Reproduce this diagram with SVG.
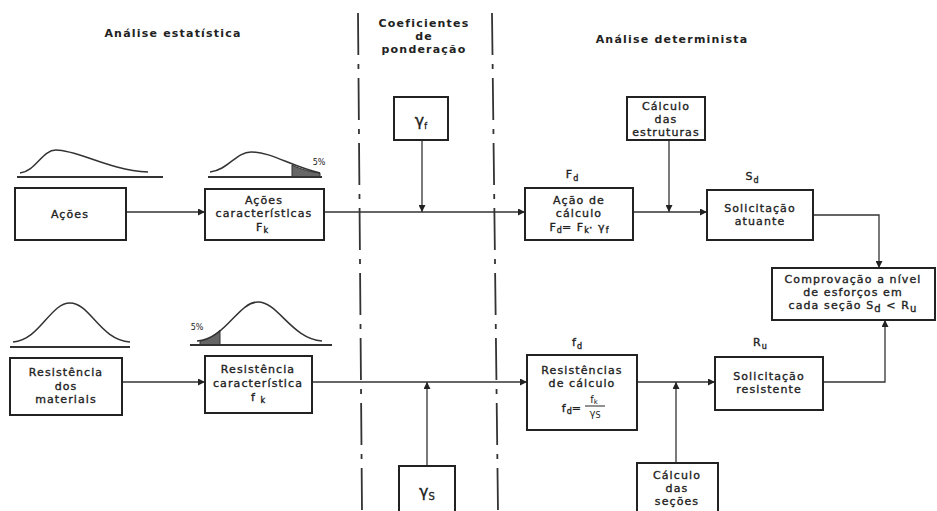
<svg xmlns="http://www.w3.org/2000/svg" width="937" height="511" viewBox="0 0 937 511">
<defs>
<marker id="ah" viewBox="0 0 10 10" refX="10" refY="5" markerWidth="8" markerHeight="7" markerUnits="userSpaceOnUse" orient="auto">
<path d="M0,0 L10,5 L0,10 z" fill="#222"/>
</marker>
</defs>
<style>
text{font-family:"DejaVu Sans","Liberation Sans",Arial,sans-serif;fill:#222;text-anchor:middle}
.h{font-size:11px;font-weight:bold;letter-spacing:1.2px}
.t{font-size:11px;letter-spacing:1.1px;stroke:#222;stroke-width:0.35px}
.g{font-size:16px;stroke:#222;stroke-width:0.3px}
.s{font-size:8px;letter-spacing:0}
.box{fill:#fff;stroke:#222;stroke-width:2}
.c{fill:none;stroke:#333;stroke-width:1.3}
.curve{fill:none;stroke:#333;stroke-width:1.5}
.base{stroke:#333;stroke-width:2}
.dd{stroke:#333;stroke-width:1.8;stroke-dasharray:42 9 5 9}
</style>
<rect width="937" height="511" fill="#fff"/>
<line class="dd" x1="358" y1="13" x2="362" y2="511"/>
<line class="dd" x1="492" y1="13" x2="498" y2="511"/>
<text class="h" x="173" y="37">Análise estatística</text>
<text class="h" x="424" y="27">Coeficientes</text>
<text class="h" x="424" y="40">de</text>
<text class="h" x="424" y="53">ponderação</text>
<text class="h" x="672" y="43">Análise determinista</text>
<g id="curves">
<path class="curve" d="M20,173 C36,171 42,150 56,150 C78,150 108,170 148,172"/>
<line class="base" x1="17" y1="177" x2="163" y2="177"/>
<path d="M292,165 C302,170 312,172 320,173 L320,177 L292,177 z" fill="#666" stroke="#333" stroke-width="1"/>
<path class="curve" d="M210,172 C228,170 236,152 251,152 C272,152 290,166 320,173"/>
<line class="base" x1="208" y1="177" x2="322" y2="177"/>
<text class="s" x="319" y="165">5%</text>
<path class="curve" d="M13,342 C40,340 50,303 70,303 C90,303 100,340 130,342"/>
<line class="base" x1="10" y1="347" x2="130" y2="347"/>
<path d="M200,341 C208,340 214,336 220,330 L220,345 L200,345 z" fill="#666" stroke="#333" stroke-width="1"/>
<path class="curve" d="M197,341 C226,339 238,302 258,302 C278,302 292,339 322,341"/>
<line class="base" x1="190" y1="345" x2="332" y2="345"/>
<text class="s" x="197" y="330">5%</text>
</g>
<g id="connectors">
<line class="c" x1="126" y1="212" x2="205" y2="212" marker-end="url(#ah)"/>
<line class="c" x1="324" y1="212" x2="525" y2="212" marker-end="url(#ah)"/>
<line class="c" x1="422" y1="140" x2="422" y2="212" marker-end="url(#ah)"/>
<line class="c" x1="633" y1="212" x2="707" y2="212" marker-end="url(#ah)"/>
<line class="c" x1="669" y1="140" x2="669" y2="212" marker-end="url(#ah)"/>
<polyline class="c" points="813,215 879,215 879,268" marker-end="url(#ah)"/>
<line class="c" x1="122" y1="382" x2="205" y2="382" marker-end="url(#ah)"/>
<line class="c" x1="312" y1="382" x2="527" y2="382" marker-end="url(#ah)"/>
<line class="c" x1="427" y1="466" x2="427" y2="382" marker-end="url(#ah)"/>
<line class="c" x1="637" y1="382" x2="715" y2="382" marker-end="url(#ah)"/>
<line class="c" x1="676" y1="463" x2="676" y2="382" marker-end="url(#ah)"/>
<polyline class="c" points="823,382 885,382 885,320" marker-end="url(#ah)"/>
</g>
<g id="acoes">
<rect class="box" x="15" y="188" width="111" height="52"/>
<text class="t" x="70" y="218">Ações</text>
</g>
<g id="acoes-caracteristicas">
<rect class="box" x="205" y="189" width="119" height="51"/>
<text class="t" x="264" y="204">Ações</text>
<text class="t" x="264" y="217">características</text>
<text class="t" x="262" y="231">F<tspan class="s" dy="2">k</tspan></text>
</g>
<g id="gamma-f">
<rect class="box" x="394" y="97" width="54" height="43"/>
<text class="g" x="421" y="126">γ<tspan class="s" dy="3">f</tspan></text>
</g>
<g id="acao-calculo">
<text class="t" x="572" y="178">F<tspan class="s" dy="3">d</tspan></text>
<rect class="box" x="525" y="188" width="108" height="52"/>
<text class="t" x="579" y="204">Ação de</text>
<text class="t" x="579" y="217">cálculo</text>
<text class="t" x="579" y="231">F<tspan class="s" dy="2">d</tspan><tspan dy="-2">= F</tspan><tspan class="s" dy="2">k</tspan><tspan dy="-2">·  γ</tspan><tspan class="s" dy="2">f</tspan></text>
</g>
<g id="calculo-estruturas">
<rect class="box" x="627" y="97" width="78" height="43"/>
<text class="t" x="666" y="110">Cálculo</text>
<text class="t" x="666" y="123">das</text>
<text class="t" x="666" y="136">estruturas</text>
</g>
<g id="solicitacao-atuante">
<text class="t" x="752" y="180">S<tspan class="s" dy="3">d</tspan></text>
<rect class="box" x="707" y="190" width="106" height="50"/>
<text class="t" x="760" y="212">Solicitação</text>
<text class="t" x="760" y="225">atuante</text>
</g>
<g id="comprovacao">
<rect class="box" x="772" y="268" width="163" height="52"/>
<text class="t" x="853" y="283">Comprovação a nível</text>
<text class="t" x="853" y="296">de esforços em</text>
<text class="t" x="853" y="309">cada seção  S<tspan font-size="10" dy="3">d</tspan><tspan dy="-3"> &lt; R</tspan><tspan font-size="10" dy="3">u</tspan></text>
</g>
<g id="resistencia-materiais">
<rect class="box" x="10" y="358" width="112" height="57"/>
<text class="t" x="66" y="376">Resistência</text>
<text class="t" x="66" y="390">dos</text>
<text class="t" x="66" y="403">materiais</text>
</g>
<g id="resistencia-caracteristica">
<rect class="box" x="205" y="356" width="107" height="57"/>
<text class="t" x="258" y="373">Resistência</text>
<text class="t" x="258" y="387">característica</text>
<text class="t" x="258" y="401">f <tspan class="s" dy="2">k</tspan></text>
</g>
<g id="gamma-s">
<rect class="box" x="399" y="466" width="56" height="50"/>
<text class="g" x="427" y="497">γ<tspan font-size="10" dy="3">S</tspan></text>
</g>
<g id="resistencias-calculo">
<text class="t" x="577" y="346">f<tspan class="s" dy="3">d</tspan></text>
<rect class="box" x="527" y="355" width="110" height="75"/>
<text class="t" x="582" y="374">Resistências</text>
<text class="t" x="582" y="387">de cálculo</text>
<text class="t" x="572" y="412">f<tspan class="s" dy="2">d</tspan><tspan dy="-2">=</tspan></text>
<line x1="585" y1="406" x2="605" y2="406" stroke="#222" stroke-width="1"/>
<text font-size="10" x="594" y="403">f<tspan font-size="7" dy="1">k</tspan></text>
<text font-size="10" x="595" y="417">γ<tspan font-size="8" dy="1">S</tspan></text>
</g>
<g id="calculo-secoes">
<rect class="box" x="637" y="463" width="81" height="52"/>
<text class="t" x="677" y="479">Cálculo</text>
<text class="t" x="677" y="492">das</text>
<text class="t" x="677" y="505">seções</text>
</g>
<g id="solicitacao-resistente">
<text class="t" x="760" y="346">R<tspan class="s" dy="3">u</tspan></text>
<rect class="box" x="715" y="357" width="108" height="53"/>
<text class="t" x="769" y="380">Solicitação</text>
<text class="t" x="769" y="393">resistente</text>
</g>
</svg>
